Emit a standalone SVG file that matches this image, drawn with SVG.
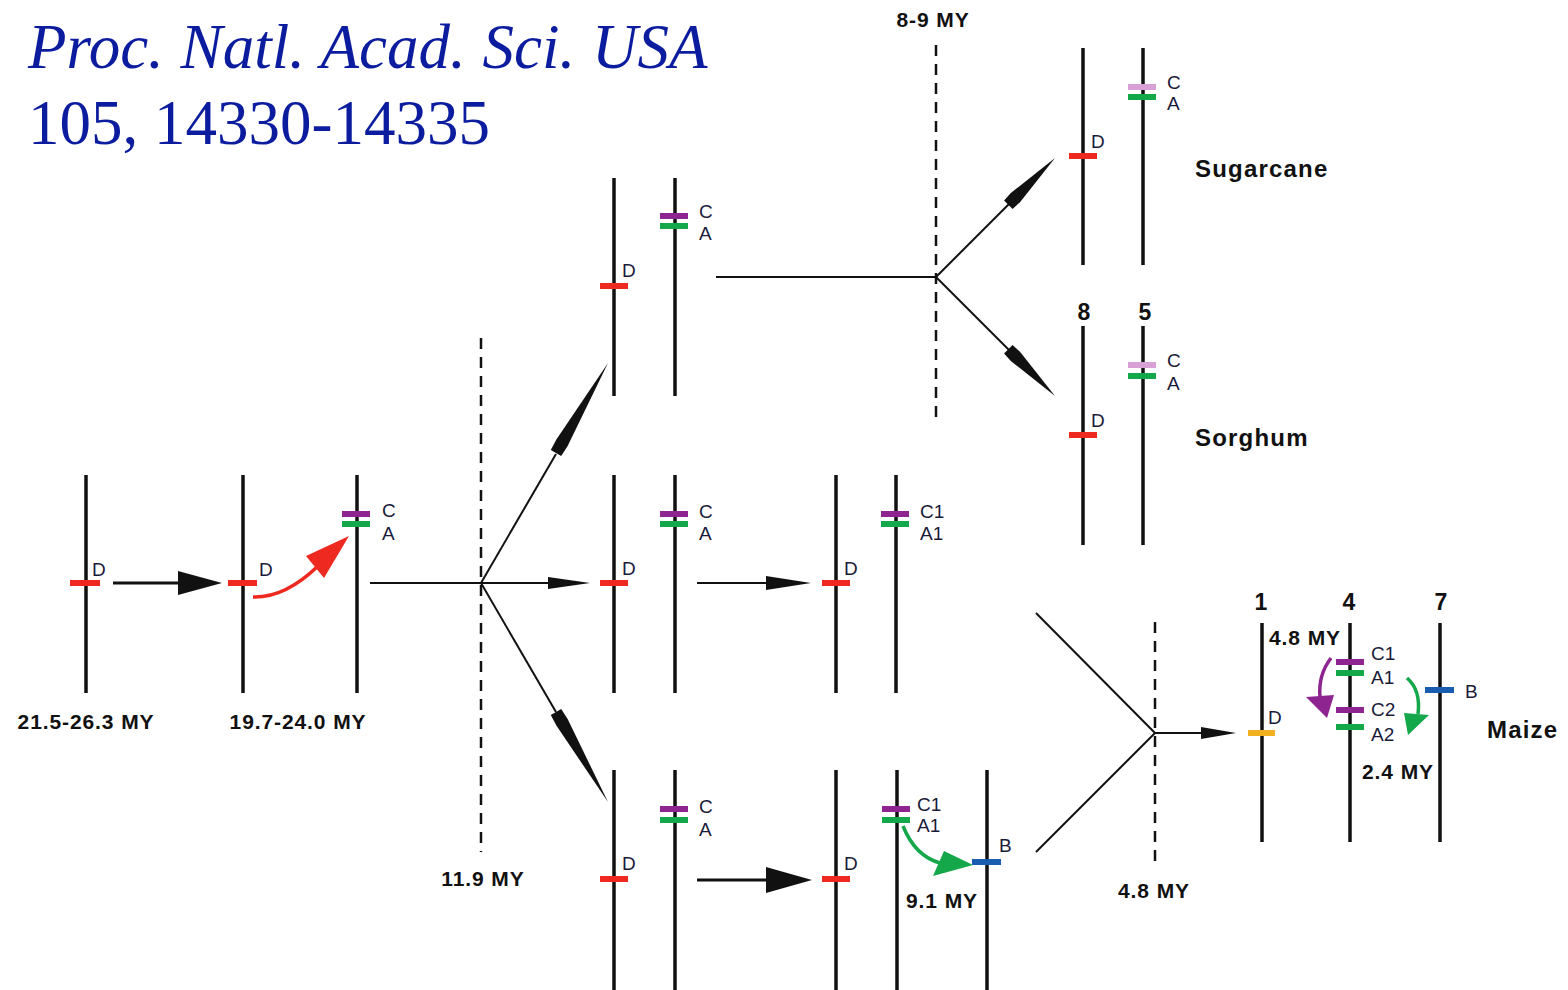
<svg xmlns="http://www.w3.org/2000/svg" width="1568" height="990" viewBox="0 0 1568 990">
<style>
.chr{stroke:#111;stroke-width:3.5;fill:none}
.ln{stroke:#111;stroke-width:2;fill:none}
.thk{stroke:#111;stroke-width:3;fill:none}
.dash{stroke:#111;stroke-width:2.5;stroke-dasharray:11 8;fill:none}
.red{fill:#ee2a20}.pur{fill:#8e2490}.grn{fill:#14a84a}.pink{fill:#d8a0d4}.blu{fill:#1a5cb0}.yel{fill:#f0b020}
.bl{font-family:"Liberation Sans",Arial,sans-serif;font-size:19px;fill:#1a1a3a}
.my{font-family:"Liberation Sans",Arial,sans-serif;font-size:21px;font-weight:bold;fill:#111;letter-spacing:0.9px}
.sp{font-family:"Liberation Sans",Arial,sans-serif;font-size:24px;font-weight:bold;fill:#111;letter-spacing:1.2px}
.num{font-family:"Liberation Sans",Arial,sans-serif;font-size:23px;font-weight:bold;fill:#111;text-anchor:middle}
.ttl{font-family:"Liberation Serif","Times New Roman",serif;font-size:63px;fill:#0c1c9e}
</style>
<defs>
<path id="wl" d="M0,0 L-92,-6.5 L-104,-6 L-104,6 L-92,6.5 Z" fill="#111"/>
<path id="ws" d="M0,0 L-56,-6.5 L-66,-6 L-66,6 L-56,6.5 Z" fill="#111"/>
</defs>
<rect width="1568" height="990" fill="#fff"/>

<g id="title">
<text class="ttl" x="28" y="68" font-style="italic" word-spacing="1">Proc. Natl. Acad. Sci. USA</text>
<text class="ttl" x="28" y="144">105, 14330-14335</text>
</g>

<g id="connectors">
<line class="thk" x1="113" y1="583" x2="185" y2="583"/>
<polygon points="178,571 222,583 178,595" fill="#111"/>
<path d="M253,597 Q285,598 318,566" stroke="#ee2a20" stroke-width="3.5" fill="none"/>
<polygon points="349,536 306,556 324,578" fill="#ee2a20"/>
<line class="ln" x1="370" y1="583" x2="481" y2="583"/>
<line class="dash" x1="481" y1="338" x2="481" y2="852"/>
<line class="ln" x1="481" y1="583" x2="556" y2="454"/>
<use href="#wl" transform="translate(608,363) rotate(-60)"/>
<line class="ln" x1="481" y1="583" x2="552" y2="583"/>
<polygon points="548,577 590,583 548,589" fill="#111"/>
<line class="ln" x1="481" y1="583" x2="556" y2="712"/>
<use href="#wl" transform="translate(608,802) rotate(60)"/>
<line class="ln" x1="697" y1="583" x2="770" y2="583"/>
<polygon points="766,576 811,583 766,590" fill="#111"/>
<line class="thk" x1="697" y1="880" x2="770" y2="880"/>
<polygon points="766,867 812,880 766,893" fill="#111"/>
<line class="ln" x1="716" y1="277" x2="936" y2="277"/>
<line class="dash" x1="936" y1="45" x2="936" y2="422"/>
<line class="ln" x1="936" y1="277" x2="1010" y2="203"/>
<use href="#ws" transform="translate(1055,158) rotate(-45)"/>
<line class="ln" x1="936" y1="277" x2="1010" y2="351"/>
<use href="#ws" transform="translate(1055,396) rotate(45)"/>
<path d="M903,826 Q915,856 940,863" stroke="#14a84a" stroke-width="3.5" fill="none"/>
<polygon points="973,865 933,876 944,851" fill="#14a84a"/>
<line class="ln" x1="1036" y1="613" x2="1155" y2="733"/>
<line class="ln" x1="1036" y1="852" x2="1155" y2="733"/>
<line class="dash" x1="1155" y1="622" x2="1155" y2="862"/>
<line class="ln" x1="1155" y1="733" x2="1205" y2="733"/>
<polygon points="1201,727 1236,733 1201,739" fill="#111"/>
<path d="M1331,658 Q1318,675 1320,697" stroke="#8e2490" stroke-width="3.5" fill="none"/>
<polygon points="1306,697 1334,695 1327,718" fill="#8e2490"/>
<path d="M1407,678 Q1421,690 1418,714" stroke="#14a84a" stroke-width="3.5" fill="none"/>
<polygon points="1404,713 1429,715 1408,735" fill="#14a84a"/>
</g>

<g id="ancestor1">
<line class="chr" x1="86" y1="475" x2="86" y2="693"/>
<rect class="red" x="70" y="580" width="30" height="6"/>
<text class="bl" x="92" y="576">D</text>
<text class="my" x="86" y="729" text-anchor="middle">21.5-26.3 MY</text>
</g>
<g id="ancestor2">
<line class="chr" x1="243" y1="475" x2="243" y2="693"/>
<rect class="red" x="228" y="580" width="29" height="6"/>
<text class="bl" x="259" y="576">D</text>
<text class="my" x="298" y="729" text-anchor="middle">19.7-24.0 MY</text>
</g>
<g id="ancestor3">
<line class="chr" x1="357" y1="475" x2="357" y2="693"/>
<rect class="pur" x="342" y="511" width="28" height="6"/>
<rect class="grn" x="342" y="521" width="28" height="6"/>
<text class="bl" x="382" y="517">C</text>
<text class="bl" x="382" y="540">A</text>
</g>
<g id="t119"><text class="my" x="483" y="886" text-anchor="middle">11.9 MY</text></g>

<g id="top-pair">
<line class="chr" x1="614" y1="178" x2="614" y2="396"/>
<line class="chr" x1="675" y1="178" x2="675" y2="396"/>
<rect class="red" x="600" y="283" width="28" height="6"/>
<text class="bl" x="622" y="277">D</text>
<rect class="pur" x="660" y="213" width="28" height="6"/>
<rect class="grn" x="660" y="223" width="28" height="6"/>
<text class="bl" x="699" y="218">C</text>
<text class="bl" x="699" y="240">A</text>
</g>
<g id="mid-pair">
<line class="chr" x1="614" y1="475" x2="614" y2="693"/>
<line class="chr" x1="675" y1="475" x2="675" y2="693"/>
<rect class="red" x="600" y="580" width="28" height="6"/>
<text class="bl" x="622" y="575">D</text>
<rect class="pur" x="660" y="511" width="28" height="6"/>
<rect class="grn" x="660" y="521" width="28" height="6"/>
<text class="bl" x="699" y="518">C</text>
<text class="bl" x="699" y="540">A</text>
</g>
<g id="mid-pair2">
<line class="chr" x1="836" y1="475" x2="836" y2="693"/>
<line class="chr" x1="896" y1="475" x2="896" y2="693"/>
<rect class="red" x="822" y="580" width="28" height="6"/>
<text class="bl" x="844" y="575">D</text>
<rect class="pur" x="881" y="511" width="28" height="6"/>
<rect class="grn" x="881" y="521" width="28" height="6"/>
<text class="bl" x="920" y="518">C1</text>
<text class="bl" x="920" y="540">A1</text>
</g>
<g id="bot-pair">
<line class="chr" x1="614" y1="770" x2="614" y2="990"/>
<line class="chr" x1="675" y1="770" x2="675" y2="990"/>
<rect class="red" x="600" y="876" width="28" height="6"/>
<text class="bl" x="622" y="870">D</text>
<rect class="pur" x="660" y="806" width="28" height="6"/>
<rect class="grn" x="660" y="817" width="28" height="6"/>
<text class="bl" x="699" y="813">C</text>
<text class="bl" x="699" y="836">A</text>
</g>
<g id="bot-triple">
<line class="chr" x1="836" y1="770" x2="836" y2="990"/>
<line class="chr" x1="897" y1="770" x2="897" y2="990"/>
<line class="chr" x1="987" y1="770" x2="987" y2="990"/>
<rect class="red" x="822" y="876" width="28" height="6"/>
<text class="bl" x="844" y="870">D</text>
<rect class="pur" x="882" y="806" width="28" height="6"/>
<rect class="grn" x="882" y="817" width="28" height="6"/>
<text class="bl" x="917" y="811">C1</text>
<text class="bl" x="917" y="832">A1</text>
<rect class="blu" x="972" y="859" width="29" height="6"/>
<text class="bl" x="999" y="852">B</text>
<text class="my" x="942" y="908" text-anchor="middle">9.1 MY</text>
</g>
<g id="t89"><text class="my" x="933" y="27" text-anchor="middle">8-9 MY</text></g>

<g id="sugarcane">
<line class="chr" x1="1083" y1="48" x2="1083" y2="265"/>
<line class="chr" x1="1143" y1="48" x2="1143" y2="265"/>
<rect class="red" x="1069" y="153" width="28" height="6"/>
<text class="bl" x="1091" y="148">D</text>
<rect class="pink" x="1128" y="84" width="28" height="6"/>
<rect class="grn" x="1128" y="94" width="28" height="6"/>
<text class="bl" x="1167" y="89">C</text>
<text class="bl" x="1167" y="110">A</text>
<text class="sp" x="1195" y="177">Sugarcane</text>
</g>
<g id="sorghum">
<text class="num" x="1084" y="320">8</text>
<text class="num" x="1145" y="320">5</text>
<line class="chr" x1="1083" y1="326" x2="1083" y2="545"/>
<line class="chr" x1="1143" y1="326" x2="1143" y2="545"/>
<rect class="red" x="1069" y="432" width="28" height="6"/>
<text class="bl" x="1091" y="427">D</text>
<rect class="pink" x="1128" y="362" width="28" height="6"/>
<rect class="grn" x="1128" y="373" width="28" height="6"/>
<text class="bl" x="1167" y="367">C</text>
<text class="bl" x="1167" y="390">A</text>
<text class="sp" x="1195" y="446">Sorghum</text>
</g>
<g id="t48"><text class="my" x="1154" y="898" text-anchor="middle">4.8 MY</text></g>

<g id="maize">
<text class="num" x="1261" y="610">1</text>
<text class="num" x="1349" y="610">4</text>
<text class="num" x="1441" y="610">7</text>
<line class="chr" x1="1262" y1="623" x2="1262" y2="842"/>
<line class="chr" x1="1350" y1="623" x2="1350" y2="842"/>
<line class="chr" x1="1440" y1="623" x2="1440" y2="842"/>
<rect class="yel" x="1248" y="730" width="27" height="6"/>
<text class="bl" x="1268" y="724">D</text>
<rect class="pur" x="1336" y="659" width="28" height="6"/>
<rect class="grn" x="1336" y="670" width="28" height="6"/>
<rect class="pur" x="1336" y="707" width="28" height="6"/>
<rect class="grn" x="1336" y="724" width="28" height="6"/>
<text class="bl" x="1371" y="660">C1</text>
<text class="bl" x="1371" y="684">A1</text>
<text class="bl" x="1371" y="716">C2</text>
<text class="bl" x="1371" y="741">A2</text>
<rect class="blu" x="1425" y="687" width="29" height="6"/>
<text class="bl" x="1465" y="698">B</text>
<text class="my" x="1305" y="645" text-anchor="middle">4.8 MY</text>
<text class="my" x="1398" y="779" text-anchor="middle">2.4 MY</text>
<text class="sp" x="1487" y="738">Maize</text>
</g>
</svg>
